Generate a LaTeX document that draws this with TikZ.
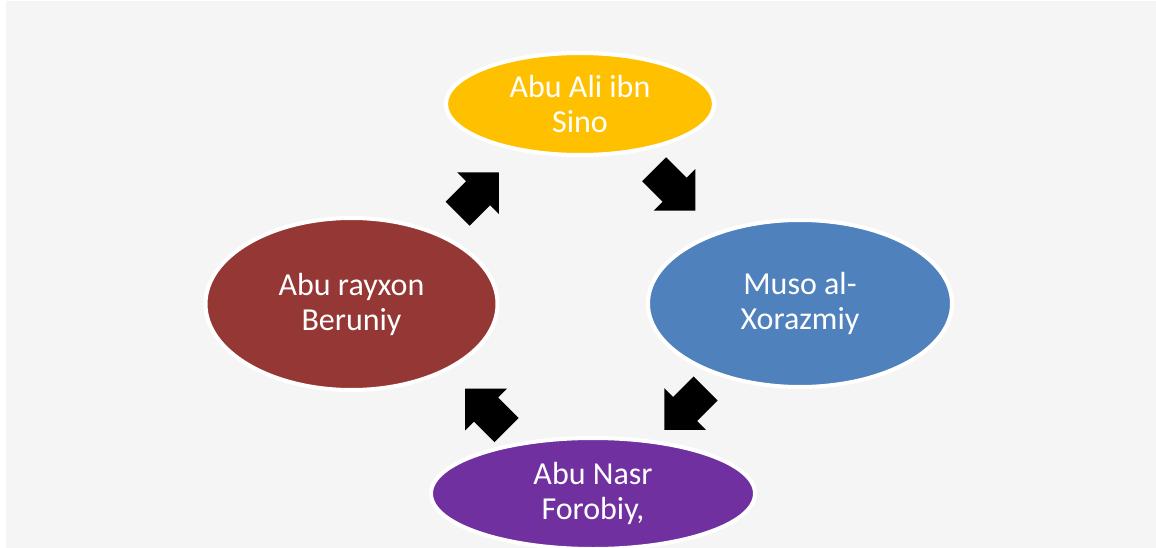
\documentclass[tikz,border=0pt]{standalone}
\usepackage{fontspec}
\setmainfont{Carlito}
\usetikzlibrary{shapes.geometric,calc}

\definecolor{sinoyellow}{HTML}{FFC000}
\definecolor{xorazmblue}{HTML}{4F81BD}
\definecolor{forobpurple}{HTML}{7030A0}
\definecolor{berunred}{HTML}{953735}
\definecolor{slidegray}{HTML}{F5F5F5}

\tikzset{
	scholar/.style={ellipse, draw=white, line width=4pt, inner sep=0pt, text=white, align=center, font=\fontsize{32}{35}\selectfont},
	cyclearrow/.pic={
		\fill[black] (-29,-17) -- (0,-17) -- (0,-29.5) -- (29.5,0) -- (0,29.5) -- (0,17) -- (-29,17) -- cycle;
	}
}

\begin{document}
\begin{tikzpicture}[x=1pt,y=-1pt]
		\useasboundingbox (0,0) rectangle (1156,548);
		\fill[slidegray] (6,1) rectangle (1156,548);

		\node[scholar, fill=sinoyellow, minimum width=268pt, minimum height=102pt] (sino) at (580,104) {Abu Ali ibn\\Sino};
		\node[scholar, fill=xorazmblue, minimum width=304pt, minimum height=167pt] (xorazmiy) at (800,303.5) {Muso al-\\Xorazmiy};
		\node[scholar, fill=forobpurple, minimum width=324pt, minimum height=111pt] (forobiy) at (593,493.5) {Abu Nasr\\Forobiy,};
		\node[scholar, fill=berunred, minimum width=292pt, minimum height=172pt] (beruniy) at (351.5,304) {Abu rayxon\\Beruniy};

		\pic[rotate=-45] at ($(sino)!0.43!(xorazmiy)$) {cyclearrow};
		\pic[rotate=-135] at ($(xorazmiy)!0.555!(forobiy)$) {cyclearrow};
		\pic[rotate=135] at ($(forobiy)!0.443!(beruniy)$) {cyclearrow};
		\pic[rotate=45] at ($(beruniy)!0.554!(sino)$) {cyclearrow};
\end{tikzpicture}
\end{document}
